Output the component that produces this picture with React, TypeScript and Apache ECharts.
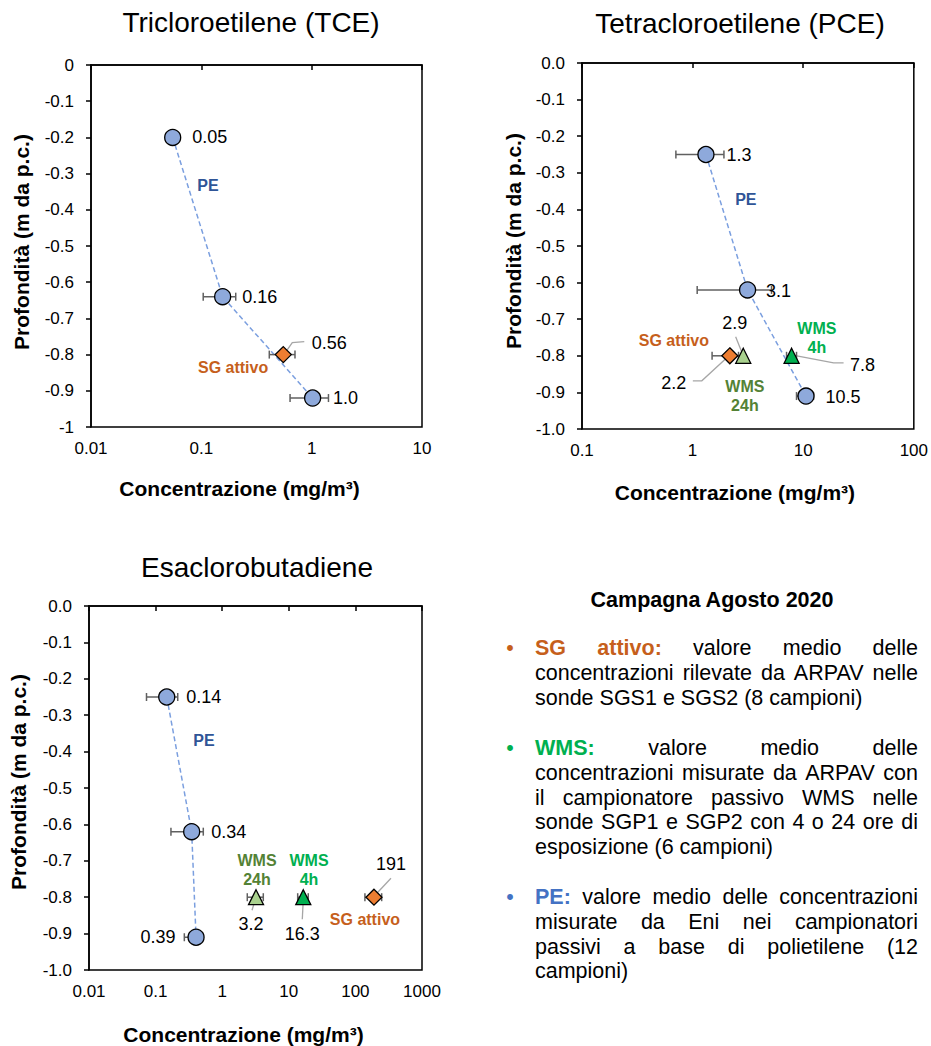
import React, { useEffect, useRef } from 'react';
import * as echarts from 'echarts';

const FONT = '"Liberation Sans", Arial, Helvetica, sans-serif';

// ---------------- DATA ----------------
// Tricloroetilene (TCE)
const tceTitle = 'Tricloroetilene (TCE)';
const tcePeConc = [0.055, 0.156, 1.02];
const tcePeDepth = [-0.2, -0.64, -0.92];
const tcePeLow = [0.055, 0.104, 0.637];
const tcePeHigh = [0.055, 0.205, 1.42];
const tcePeLabels = ['0.05', '0.16', '1.0'];
const tceSgConc = [0.553];
const tceSgDepth = [-0.8];
const tceSgLow = [0.413];
const tceSgHigh = [0.706];
const tceSgLabels = ['0.56'];

// Tetracloroetilene (PCE)
const pceTitle = 'Tetracloroetilene (PCE)';
const pcePeConc = [1.32, 3.14, 10.6];
const pcePeDepth = [-0.25, -0.62, -0.91];
const pcePeLow = [0.706, 1.1, 8.7];
const pcePeHigh = [1.92, 5.17, 12.4];
const pcePeLabels = ['1.3', '3.1', '10.5'];
const pceSgConc = [2.17];
const pceSgDepth = [-0.8];
const pceSgLow = [1.5];
const pceSgHigh = [2.6];
const pceSgLabels = ['2.2'];
const pceW24Conc = [2.87];
const pceW24Depth = [-0.8];
const pceW24Low = [2.87];
const pceW24High = [2.87];
const pceW24Labels = ['2.9'];
const pceW4Conc = [7.85];
const pceW4Depth = [-0.8];
const pceW4Low = [7.07];
const pceW4High = [8.7];
const pceW4Labels = ['7.8'];

// Esaclorobutadiene
const hcbdTitle = 'Esaclorobutadiene';
const hcbdPeConc = [0.147, 0.348, 0.405];
const hcbdPeDepth = [-0.25, -0.62, -0.91];
const hcbdPeLow = [0.073, 0.17, 0.27];
const hcbdPeHigh = [0.215, 0.52, 0.5];
const hcbdPeLabels = ['0.14', '0.34', '0.39'];
const hcbdW24Conc = [3.22];
const hcbdW24Depth = [-0.8];
const hcbdW24Low = [2.38];
const hcbdW24High = [4.14];
const hcbdW24Labels = ['3.2'];
const hcbdW4Conc = [16.5];
const hcbdW4Depth = [-0.8];
const hcbdW4Low = [13.6];
const hcbdW4High = [19.6];
const hcbdW4Labels = ['16.3'];
const hcbdSgConc = [190];
const hcbdSgDepth = [-0.8];
const hcbdSgLow = [139];
const hcbdSgHigh = [248];
const hcbdSgLabels = ['191'];

const xAxisName = 'Concentrazione (mg/m³)';
const yAxisName = 'Profondità (m da p.c.)';
const yMin = -1;
const yMax = 0;
const yStep = 0.1;

const legendHeading = 'Campagna Agosto 2020';
const legendItems = [
  { key: ['SG', 'attivo:'], lines: ['valore medio delle', 'concentrazioni rilevate da ARPAV nelle', 'sonde SGS1 e SGS2 (8 campioni)'] },
  { key: ['WMS:'], lines: ['valore medio delle', 'concentrazioni misurate da ARPAV con', 'il campionatore passivo WMS nelle', 'sonde SGP1 e SGP2 con 4 o 24 ore di', 'esposizione (6 campioni)'] },
  { key: ['PE:'], lines: ['valore medio delle concentrazioni', 'misurate da Eni nei campionatori', 'passivi a base di polietilene (12', 'campioni)'] },
];

// ---------------- STYLES ----------------
const C_PE = '#8EA9DB';
const C_PE_LINE = '#7B9FDF';
const C_PE_TXT = '#2F5597';
const C_PE_LEG = '#4472C4';
const C_SG = '#ED7D31';
const C_SG_TXT = '#C65F1C';
const C_W24 = '#A9D18E';
const C_W24_TXT = '#548235';
const C_W4 = '#00B050';
const C_W4_TXT = '#00B050';
const C_ERR = '#606060';
const C_LEADER = '#A6A6A6';

type Group = { conc: number[]; depth: number[]; low: number[]; high: number[]; labels: string[] } | null;

const panels = [
  {
    title: tceTitle, xMin: 0.01, xMax: 10, intLabels: true,
    pe: { conc: tcePeConc, depth: tcePeDepth, low: tcePeLow, high: tcePeHigh, labels: tcePeLabels },
    sg: { conc: tceSgConc, depth: tceSgDepth, low: tceSgLow, high: tceSgHigh, labels: tceSgLabels },
    w24: null as Group, w4: null as Group,
  },
  {
    title: pceTitle, xMin: 0.1, xMax: 100, intLabels: false,
    pe: { conc: pcePeConc, depth: pcePeDepth, low: pcePeLow, high: pcePeHigh, labels: pcePeLabels },
    sg: { conc: pceSgConc, depth: pceSgDepth, low: pceSgLow, high: pceSgHigh, labels: pceSgLabels },
    w24: { conc: pceW24Conc, depth: pceW24Depth, low: pceW24Low, high: pceW24High, labels: pceW24Labels } as Group,
    w4: { conc: pceW4Conc, depth: pceW4Depth, low: pceW4Low, high: pceW4High, labels: pceW4Labels } as Group,
  },
  {
    title: hcbdTitle, xMin: 0.01, xMax: 1000, intLabels: false,
    pe: { conc: hcbdPeConc, depth: hcbdPeDepth, low: hcbdPeLow, high: hcbdPeHigh, labels: hcbdPeLabels },
    sg: { conc: hcbdSgConc, depth: hcbdSgDepth, low: hcbdSgLow, high: hcbdSgHigh, labels: hcbdSgLabels },
    w24: { conc: hcbdW24Conc, depth: hcbdW24Depth, low: hcbdW24Low, high: hcbdW24High, labels: hcbdW24Labels } as Group,
    w4: { conc: hcbdW4Conc, depth: hcbdW4Depth, low: hcbdW4Low, high: hcbdW4High, labels: hcbdW4Labels } as Group,
  },
];

// Layout: grids, title positions, label offsets (px from the point), leader offsets, name annotations
const layouts: any[] = [
  {
    grid: { left: 91, top: 65, width: 331, height: 362 }, titleX: 251, titleY: 22,
    yNameGap: 59, xNameGap: 51, xNameShift: 17, yNameShift: 4,
    off: { pe: [[37, 0], [37, 0], [33, 0]], sg: [[46, -12]] },
    leaders: { sg: [[[2, -2], [9, -12], [21, -13]]] },
    notes: [
      { text: 'PE', conc: 0.115, depth: -0.332, color: C_PE_TXT },
      { text: 'SG attivo', conc: 0.194, depth: -0.835, color: C_SG_TXT },
    ],
  },
  {
    grid: { left: 582, top: 63, width: 332, height: 366 }, titleX: 740, titleY: 23,
    yNameGap: 58, xNameGap: 53, xNameShift: 13, yNameShift: 5,
    off: { pe: [[33, 0], [31, 1], [37, 1]], sg: [[-56, 27]], w24: [[-8.5, -33]], w4: [[71, 9]] },
    leaders: {
      sg: [[[-3, 2], [-28, 25], [-37, 25]]],
      w24: [[[-7.6, -19], [-1.6, -4]]],
      w4: [[[0, -1], [42, 7], [52, 7]]],
    },
    notes: [
      { text: 'PE', conc: 3.03, depth: -0.372, color: C_PE_TXT },
      { text: 'SG attivo', conc: 0.677, depth: -0.757, color: C_SG_TXT },
      { text: 'WMS\n4h', conc: 13.3, depth: -0.75, color: C_W4_TXT },
      { text: 'WMS\n24h', conc: 2.97, depth: -0.911, color: C_W24_TXT },
    ],
  },
  {
    grid: { left: 89, top: 606, width: 333, height: 366 }, titleX: 257, titleY: 567,
    yNameGap: 60, xNameGap: 54, xNameShift: 12, yNameShift: 6,
    off: { pe: [[37, 0], [37, 0], [-38, 0]], sg: [[17, -33]], w24: [[-5, 27]], w4: [[-1, 37]] },
    leaders: {
      sg: [[[17, -19], [1, -2]]],
      w24: [[[-4, 13], [-1, 3]]],
      w4: [[[-1, 22], [0, 2]]],
    },
    notes: [
      { text: 'PE', conc: 0.533, depth: -0.369, color: C_PE_TXT },
      { text: 'WMS\n24h', conc: 3.33, depth: -0.724, color: C_W24_TXT },
      { text: 'WMS\n4h', conc: 20.1, depth: -0.724, color: C_W4_TXT },
      { text: 'SG attivo', conc: 139, depth: -0.86, color: C_SG_TXT },
    ],
  },
];

const legendLayout = {
  headingX: 712, headingY: 600, bulletX: 510, left: 535, right: 918,
  blockTop: [648, 748, 897], lineH: 24.8, fontSize: 21.5,
  keyColors: [C_SG_TXT, C_W4, C_PE_LEG],
};

const markerStyle: Record<string, any> = {
  pe: { symbol: 'circle', size: 16, color: C_PE },
  sg: { symbol: 'diamond', size: 16, color: C_SG },
  w24: { symbol: 'triangle', size: 15, color: C_W24 },
  w4: { symbol: 'triangle', size: 15, color: C_W4 },
};

function buildLegend(): any[] {
  const L = legendLayout;
  const ctx = document.createElement('canvas').getContext('2d') as CanvasRenderingContext2D;
  const meas = (t: string, bold: boolean) => {
    ctx.font = `${bold ? 'bold ' : ''}${L.fontSize}px ${FONT}`;
    return ctx.measureText(t).width;
  };
  const els: any[] = [];
  const txt = (text: string, x: number, y: number, color: string, bold: boolean, align = 'left') => ({
    type: 'text', x, y, silent: true,
    style: {
      text, fill: color, fontSize: L.fontSize, fontWeight: bold ? 'bold' : 'normal', fontFamily: FONT,
      align, textAlign: align, verticalAlign: 'middle', textVerticalAlign: 'middle',
    },
  });
  els.push(txt(legendHeading, L.headingX, L.headingY, '#000', true, 'center'));
  const width = L.right - L.left;
  legendItems.forEach((it, bi) => {
    const color = L.keyColors[bi];
    const y0 = L.blockTop[bi];
    els.push(txt('•', L.bulletX, y0, color, false, 'center'));
    it.lines.forEach((ln, li) => {
      const toks: { t: string; bold: boolean; color: string }[] = [];
      if (li === 0) it.key.forEach((k) => toks.push({ t: k, bold: true, color }));
      ln.split(' ').forEach((w) => toks.push({ t: w, bold: false, color: '#000' }));
      const widths = toks.map((tk) => meas(tk.t, tk.bold));
      const total = widths.reduce((a, b) => a + b, 0);
      const last = li === it.lines.length - 1;
      const gap = last || toks.length < 2 ? meas(' ', false) : (width - total) / (toks.length - 1);
      let x = L.left;
      const y = y0 + li * L.lineH;
      toks.forEach((tk, i) => {
        els.push(txt(tk.t, x, y, tk.color, tk.bold));
        x += widths[i] + gap;
      });
    });
  });
  return els;
}

function buildOption() {
  const grids: any[] = [];
  const xAxes: any[] = [];
  const yAxes: any[] = [];
  const series: any[] = [];
  const graphics: any[] = [];

  panels.forEach((p, gi) => {
    const lay = layouts[gi];
    grids.push({ ...lay.grid, show: true, borderColor: '#000', borderWidth: 1.5, backgroundColor: 'transparent', containLabel: false });
    graphics.push({
      type: 'text', x: lay.titleX, y: lay.titleY, silent: true,
      style: { text: p.title, fill: '#000', fontSize: 28, fontFamily: FONT, align: 'center', textAlign: 'center', verticalAlign: 'middle', textVerticalAlign: 'middle' },
    });
    xAxes.push({
      gridIndex: gi, type: 'log', logBase: 10, min: p.xMin, max: p.xMax,
      axisLine: { show: true, lineStyle: { color: '#000', width: 1.5 } },
      axisTick: { show: true, inside: false, length: 5, lineStyle: { color: '#000', width: 1.5 } },
      minorTick: { show: false }, splitLine: { show: false },
      axisLabel: {
        color: '#000', fontSize: 17, fontFamily: FONT, margin: 13,
        formatter: (v: number) => String(parseFloat(Number(v).toPrecision(4))),
      },
      name: xAxisName, nameLocation: 'middle', nameGap: lay.xNameGap,
      nameTextStyle: { color: '#000', fontSize: 21, fontWeight: 'bold', fontFamily: FONT, padding: [0, lay.xNameShift * 2, 0, 0] },
    });
    yAxes.push({
      gridIndex: gi, type: 'value', min: yMin, max: yMax, interval: yStep,
      axisLine: { show: true, onZero: false, lineStyle: { color: '#000', width: 1.5 } },
      axisTick: { show: true, inside: false, length: 5, lineStyle: { color: '#000', width: 1.5 } },
      splitLine: { show: false },
      axisLabel: {
        color: '#000', fontSize: 17, fontFamily: FONT, margin: 17,
        formatter: (v: number) => {
          const r = Math.round(v * 10) / 10;
          if (p.intLabels && Number.isInteger(r)) return String(r === 0 ? 0 : r);
          return (r === 0 ? 0 : r).toFixed(1);
        },
      },
      name: yAxisName, nameLocation: 'middle', nameGap: lay.yNameGap, nameRotate: 90,
      nameTextStyle: { color: '#000', fontSize: 21, fontWeight: 'bold', fontFamily: FONT, padding: [0, 0, 0, lay.yNameShift * 2] },
    });

    const groups: [string, Group][] = [['pe', p.pe], ['sg', p.sg], ['w24', p.w24], ['w4', p.w4]];

    // error bars
    const errData: number[][] = [];
    groups.forEach(([, g]) => {
      if (!g) return;
      g.conc.forEach((_, i) => errData.push([g.low[i], g.high[i], g.depth[i]]));
    });
    series.push({
      type: 'custom', name: 'err' + gi, xAxisIndex: gi, yAxisIndex: gi, z: 2, silent: true,
      encode: { x: [0, 1], y: 2 },
      data: errData,
      renderItem: (_params: any, api: any) => {
        const y = api.value(2);
        const a = api.coord([api.value(0), y]);
        const b = api.coord([api.value(1), y]);
        if (Math.abs(b[0] - a[0]) < 0.5) return null;
        const c = 4;
        const style = { stroke: C_ERR, lineWidth: 1.5 };
        return {
          type: 'group',
          children: [
            { type: 'line', shape: { x1: a[0], y1: a[1], x2: b[0], y2: b[1] }, style },
            { type: 'line', shape: { x1: a[0], y1: a[1] - c, x2: a[0], y2: a[1] + c }, style },
            { type: 'line', shape: { x1: b[0], y1: b[1] - c, x2: b[0], y2: b[1] + c }, style },
          ],
        };
      },
    });

    // PE dashed profile
    series.push({
      type: 'line', name: 'PE line ' + gi, xAxisIndex: gi, yAxisIndex: gi, z: 1, silent: true,
      symbol: 'none', data: p.pe.conc.map((c, i) => [c, p.pe.depth[i]]),
      lineStyle: { color: C_PE_LINE, width: 1.5, type: [5, 3] },
    });

    // leaders
    const leaderItems: { conc: number; depth: number; offs: number[][] }[] = [];
    groups.forEach(([k, g]) => {
      if (!g || !lay.leaders[k]) return;
      lay.leaders[k].forEach((offs: number[][], i: number) => {
        if (offs) leaderItems.push({ conc: g.conc[i], depth: g.depth[i], offs });
      });
    });
    series.push({
      type: 'custom', name: 'leaders' + gi, xAxisIndex: gi, yAxisIndex: gi, z: 1, silent: true,
      encode: { x: 0, y: 1 },
      data: leaderItems.map((l, i) => [l.conc, l.depth, i]),
      renderItem: (_params: any, api: any) => {
        const pt = api.coord([api.value(0), api.value(1)]);
        const offs = leaderItems[api.value(2)].offs;
        return {
          type: 'polyline',
          shape: { points: offs.map((o) => [pt[0] + o[0], pt[1] + o[1]]) },
          style: { stroke: C_LEADER, lineWidth: 1.3, fill: 'none' },
        };
      },
    });

    // markers with value labels
    groups.forEach(([k, g]) => {
      if (!g) return;
      const ms = markerStyle[k];
      series.push({
        type: 'scatter', name: k + gi, xAxisIndex: gi, yAxisIndex: gi, z: 3, silent: true,
        symbol: ms.symbol, symbolSize: ms.size,
        itemStyle: { color: ms.color, borderColor: '#000', borderWidth: 1.3, opacity: 1 },
        data: g.conc.map((c, i) => ({
          value: [c, g.depth[i]],
          label: {
            show: true, position: 'inside', offset: lay.off[k][i], formatter: g.labels[i],
            color: '#000', fontSize: 18, fontFamily: FONT, textBorderWidth: 0,
          },
        })),
      });
    });

    // series-name annotations (text placed in data space)
    const notes = lay.notes;
    series.push({
      type: 'custom', name: 'notes' + gi, xAxisIndex: gi, yAxisIndex: gi, z: 4, silent: true,
      encode: { x: 0, y: 1 },
      data: notes.map((n: any, i: number) => [n.conc, n.depth, i]),
      renderItem: (_params: any, api: any) => {
        const pt = api.coord([api.value(0), api.value(1)]);
        const n = notes[api.value(2)];
        return {
          type: 'text', x: pt[0], y: pt[1],
          style: {
            text: n.text, fill: n.color, fontSize: 16, fontWeight: 'bold', fontFamily: FONT, lineHeight: 19,
            align: 'center', textAlign: 'center', verticalAlign: 'middle', textVerticalAlign: 'middle',
          },
        };
      },
    });
  });

  return {
    animation: false,
    backgroundColor: '#fff',
    textStyle: { fontFamily: FONT },
    grid: grids,
    xAxis: xAxes,
    yAxis: yAxes,
    series,
    graphic: [...graphics, ...buildLegend()],
  };
}

export default function App() {
  const ref = useRef<HTMLDivElement>(null);
  useEffect(() => {
    if (!ref.current) return;
    const chart = echarts.init(ref.current, null, { renderer: 'svg' });
    chart.setOption(buildOption() as any);
    return () => chart.dispose();
  }, []);
  return <div ref={ref} style={{ position: 'fixed', left: 0, top: 0, width: 931, height: 1046, background: '#fff' }} />;
}
